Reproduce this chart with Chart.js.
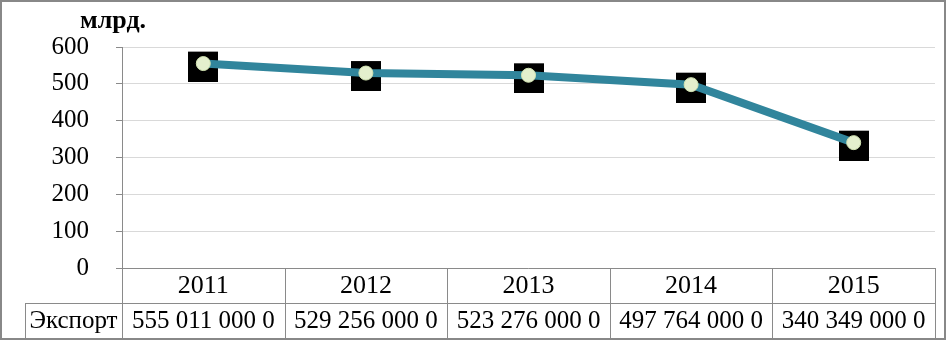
<!DOCTYPE html>
<html>
<head>
<meta charset="utf-8">
<script src="https://cdn.jsdelivr.net/npm/chart.js@4/dist/chart.umd.min.js"></script>
<style>
  body { margin: 0; background: #fff; }
  #wrap { width: 946px; height: 340px; }
</style>
</head>
<body>
<div id="wrap"><canvas id="exportChart" width="946" height="340"></canvas></div>
<script>
// data
const years = ['2011', '2012', '2013', '2014', '2015'];
const exportBn = [555.011, 529.256, 523.276, 497.764, 340.349];
const tableValues = ['555 011 000 0', '529 256 000 0', '523 276 000 0', '497 764 000 0', '340 349 000 0'];
const seriesName = 'Экспорт';
const unitTitle = 'млрд.';
const yTicks = [0, 100, 200, 300, 400, 500, 600];

const serif = '"Liberation Serif", "Times New Roman", serif';
const lineGray = '#8a8a8a';

// black square marker, drawn a little lower than the point (like the original)
const squareMark = document.createElement('canvas');
squareMark.width = 30;
squareMark.height = 36;
const sq = squareMark.getContext('2d');
sq.fillStyle = '#000';
sq.fillRect(0, 6, 30, 30);

// text a bit wider than the font, as in the source image
function wideText(ctx, text, x, y, sx) {
  ctx.save();
  ctx.translate(x, y);
  ctx.scale(sx, 1);
  ctx.fillText(text, 0, 0);
  ctx.restore();
}

// draws the data table under the plot, the unit title and the outer frame
const tablePlugin = {
  id: 'dataTable',
  afterDraw(chart) {
    const ctx = chart.ctx;
    const area = chart.chartArea;
    const xs = chart.scales.x;
    const rowH = 35;
    const top = area.bottom;
    const mid = top + rowH;
    const bottom = mid + rowH;
    const legendLeft = 25;

    // column edges from the category scale
    const edges = [area.left];
    for (let i = 0; i < years.length - 1; i++) {
      edges.push((xs.getPixelForValue(i) + xs.getPixelForValue(i + 1)) / 2);
    }
    edges.push(area.right);

    ctx.save();
    ctx.strokeStyle = lineGray;
    ctx.lineWidth = 1;
    ctx.beginPath();
    ctx.moveTo(area.left, top + 0.5);
    ctx.lineTo(area.right, top + 0.5);
    ctx.moveTo(legendLeft, mid + 0.5);
    ctx.lineTo(area.right, mid + 0.5);
    ctx.moveTo(legendLeft, bottom + 0.5);
    ctx.lineTo(area.right, bottom + 0.5);
    edges.forEach(x => {
      const px = Math.round(x) + 0.5;
      ctx.moveTo(px, top);
      ctx.lineTo(px, bottom);
    });
    ctx.moveTo(legendLeft + 0.5, mid);
    ctx.lineTo(legendLeft + 0.5, bottom);
    ctx.stroke();

    ctx.fillStyle = '#000';
    ctx.font = '25px ' + serif;
    ctx.textAlign = 'center';
    ctx.textBaseline = 'middle';
    years.forEach((y, i) => {
      const cx = xs.getPixelForValue(i);
      wideText(ctx, y, cx, top + rowH / 2 + 1, 1.04);
      wideText(ctx, tableValues[i], cx, mid + rowH / 2 + 1, 1.0);
    });
    wideText(ctx, seriesName, (legendLeft + area.left) / 2, mid + rowH / 2 + 1, 1.0);

    // unit title
    ctx.font = 'bold 26px ' + serif;
    ctx.textAlign = 'left';
    ctx.textBaseline = 'alphabetic';
    ctx.fillText(unitTitle, 80, 28);

    // outer frame
    ctx.strokeStyle = '#888';
    ctx.lineWidth = 2;
    ctx.strokeRect(1, 1, chart.width - 2, chart.height - 2);
    ctx.restore();
  }
};

new Chart(document.getElementById('exportChart'), {
  type: 'line',
  data: {
    labels: years,
    datasets: [
      {
        label: seriesName,
        data: exportBn,
        borderColor: '#31859c',
        borderWidth: 8,
        tension: 0,
        pointRadius: 7,
        pointBackgroundColor: '#e4efcd',
        pointBorderColor: '#d3e4b3',
        pointBorderWidth: 1,
        order: 0
      },
      {
        label: seriesName + ' markers',
        data: exportBn,
        showLine: false,
        pointStyle: squareMark,
        order: 1
      }
    ]
  },
  plugins: [tablePlugin],
  options: {
    responsive: false,
    animation: false,
    layout: { padding: { left: 0, right: 11, top: 47, bottom: 72 } },
    plugins: {
      legend: { display: false },
      tooltip: { enabled: false },
      title: { display: false }
    },
    scales: {
      x: {
        display: false,
        offset: true
      },
      y: {
        min: 0,
        max: 600,
        afterFit: (scale) => { scale.width = 122; },
        afterBuildTicks: (scale) => { scale.ticks = yTicks.map(v => ({ value: v })); },
        ticks: {
          color: '#000',
          padding: 27,
          font: { family: serif, size: 25 }
        },
        grid: {
          color: '#d9d9d9',
          tickColor: lineGray,
          tickLength: 6
        },
        border: { color: lineGray }
      }
    }
  }
});
</script>
</body>
</html>
